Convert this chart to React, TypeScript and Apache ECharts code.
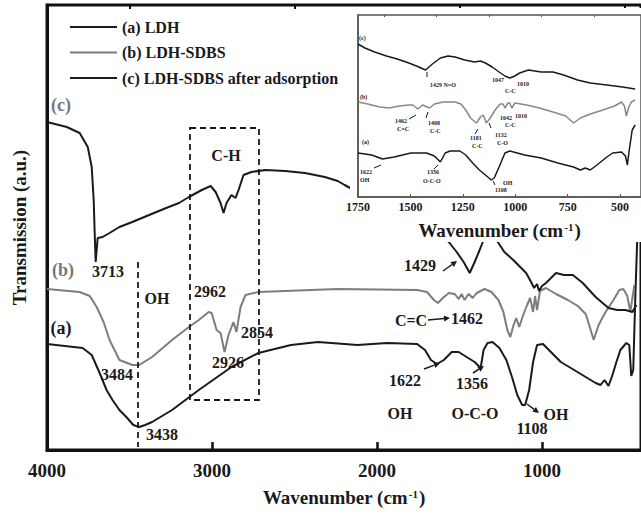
import React, { useEffect, useRef } from 'react';
import * as echarts from 'echarts';

const SERIF = '"Liberation Serif", "Times New Roman", serif';

// Main panel spectra: wavenumber (cm-1) and transmission (a.u.)
const mainWaveA = [4000,3784,3729,3681,3639,3603,3561,3519,3477,3441,3405,3363,3242,3080,2882,2719,2521,2358,2118,1938,1757,1709,1673,1637,1595,1547,1505,1457,1408,1372,1354,1330,1300,1258,1216,1180,1150,1120,1102,1078,1054,1030,994,946,886,825,735,675,645,621,597,573,549,525,489,471,459,447,435,423];
const mainA = [106,102,95,77,60,50,40,33,25,23,25,28,40,60,83,97,105,108,105,107,106,100,90,86,90,98,98,93,88,82,100,107,108,102,90,72,55,45,45,60,88,105,106,98,88,82,73,67,65,70,64,75,88,100,107,105,74,80,150,210];

const mainWaveB = [4000,3802,3741,3699,3657,3621,3561,3483,3441,3363,3242,3140,3080,3020,3002,2972,2948,2924,2900,2870,2852,2827,2797,2719,2238,1757,1697,1655,1631,1601,1565,1529,1505,1487,1469,1445,1420,1396,1348,1306,1264,1234,1210,1192,1174,1156,1138,1114,1090,1072,1054,1042,1030,1012,976,915,843,783,735,705,687,657,615,567,531,507,483,465,440];
const mainB = [161,158,154,143,128,110,90,85,85,93,110,123,130,138,137,120,117,98,115,128,118,143,155,158,161,160,158,150,147,152,157,156,151,156,150,156,152,157,161,158,150,138,120,113,124,132,123,135,145,152,138,154,140,159,162,156,150,144,136,120,110,125,138,150,160,161,154,138,165];

const mainWaveC = [4000,3880,3802,3753,3729,3717,3711,3705,3693,3663,3621,3561,3483,3381,3278,3200,3140,3062,3008,2978,2948,2930,2912,2882,2857,2839,2809,2761,2677,2557,2437,2316,2238,2196,2118,1938,1757,1607,1565,1517,1475,1438,1408,1378,1354,1318,1294,1276,1228,1174,1132,1096,1066,1048,1030,1018,1000,976,915,867,813,753,675,597,543,495,452,428];
const mainC = [328,323,317,303,283,250,217,188,212,213,217,223,228,235,242,247,253,260,264,258,247,237,247,255,252,260,275,278,280,279,277,273,269,265,258,245,230,215,208,198,188,177,188,200,210,222,218,210,198,190,183,177,168,162,166,159,164,167,177,175,175,167,153,142,140,140,138,145];

// Inset spectra (1750-400 cm-1)
const insetWaveC = [1750,1717,1671,1614,1563,1507,1460,1428,1395,1357,1320,1287,1241,1194,1166,1142,1110,1077,1049,1026,1002,979,937,876,820,769,703,642,563,488,428];
const insetC = [153,149,145,141,138,134,130,127,133,139,141,140,137,135,136,134,130,125,121,119,121,124,127,125,125,122,117,114,112,110,108];

const insetWaveB = [1750,1703,1647,1600,1554,1507,1488,1465,1442,1409,1385,1343,1287,1259,1236,1213,1185,1166,1152,1138,1119,1096,1072,1058,1049,1035,1026,1016,1002,946,885,820,759,722,689,642,582,526,493,479,470,460,446,428];
const insetB = [95,93,90,89,91,92,92,88,92,89,93,95,95,93,87,79,74,80,82,74,79,87,93,93,89,94,94,89,94,92,89,85,81,74,79,83,87,91,95,91,81,89,95,97];

const insetWaveA = [1750,1685,1633,1577,1498,1423,1386,1357,1334,1311,1264,1236,1203,1171,1142,1114,1100,1077,1049,1026,955,876,797,722,689,666,642,610,563,535,493,474,465,456,442,428];
const insetA = [44,42,38,40,44,44,41,35,44,46,46,42,34,27,22,17,19,30,44,46,42,39,34,30,27,29,27,32,40,44,45,41,32,47,67,72];

const seriesNames = ['(a) LDH', '(b) LDH-SDBS', '(c) LDH-SDBS after adsorption'];
const mainTicks = [1000, 2000, 3000, 4000];
const mainMinorTicks = [500, 1500, 2500, 3500];
const insetTicks = [500, 750, 1000, 1250, 1500, 1750];
const insetMinorTicks = [625, 875, 1125, 1375, 1625];

const BLACK = '#1a1a1a';
const GRAY = '#7d7d7d';

const zip = (w: number[], v: number[]) => w.map((x, i) => [x, v[i]]);
const plain = (v: number) => String(v);

const txt = (text: string, x: number, y: number, size: number, opts: any = {}) => ({
  type: 'text',
  x,
  y,
  z: 30,
  style: {
    text,
    fontSize: size,
    fontWeight: 'bold',
    fontFamily: SERIF,
    fill: opts.fill || BLACK,
    textAlign: opts.align || 'center',
    align: opts.align || 'center',
    textVerticalAlign: 'middle',
    verticalAlign: 'middle',
  },
});

const ln = (x1: number, y1: number, x2: number, y2: number, w = 1.5, dash?: number[]) => ({
  type: 'line',
  z: 30,
  shape: { x1, y1, x2, y2 },
  style: { stroke: BLACK, lineWidth: w, lineDash: dash },
});

const arrow = (x1: number, y1: number, x2: number, y2: number) => {
  const a = Math.atan2(y2 - y1, x2 - x1);
  const L = 6, W = 3;
  const bx = x2 - L * Math.cos(a), by = y2 - L * Math.sin(a);
  const px = -Math.sin(a) * W, py = Math.cos(a) * W;
  return [
    ln(x1, y1, bx, by, 1.5),
    { type: 'polygon', z: 30, shape: { points: [[x2, y2], [bx + px, by + py], [bx - px, by - py]] }, style: { fill: BLACK } },
  ];
};

const xName = '{t|Wavenumber (cm}{s|-1}{t|)}';
const nameRich = {
  t: { fontSize: 19, fontWeight: 'bold', fontFamily: SERIF, color: BLACK },
  s: { fontSize: 11, fontWeight: 'bold', fontFamily: SERIF, color: BLACK, verticalAlign: 'top', padding: [0, 1, 0, 1] },
};

export default function App() {
  const ref = useRef<HTMLDivElement>(null);
  useEffect(() => {
    if (!ref.current) return;
    const chart = echarts.init(ref.current, undefined, { renderer: 'svg' });
    const lineBase = { type: 'line', showSymbol: false, symbol: 'none', smooth: false };
    const graphic: any[] = [
      // white backdrop of the inset
      { type: 'rect', z: 5, shape: { x: 350, y: 8, width: 300, height: 234 }, style: { fill: '#fff' } },
      // main panel labels
      txt('(c)', 61, 105, 18, { fill: '#777' }),
      txt('(b)', 63, 270, 18, { fill: '#777' }),
      txt('(a)', 61, 328, 18),
      txt('3713', 108, 271, 16),
      txt('OH', 157, 298, 16),
      txt('2962', 210, 291, 16),
      txt('2854', 257, 332, 16),
      txt('2926', 228, 362, 16),
      txt('3484', 117, 374, 16),
      txt('3438', 162, 434, 16),
      txt('C-H', 226, 155, 16),
      txt('1429', 420, 265, 16),
      txt('C=C', 411, 320, 16),
      txt('1462', 467, 318, 16),
      txt('1622', 405, 380, 16),
      txt('1356', 472, 383, 16),
      txt('OH', 400, 413, 16),
      txt('O-C-O', 475, 413, 16),
      txt('OH', 556, 414, 16),
      txt('1108', 532, 428, 16),
      ln(138, 262, 138, 447, 1.8, [6, 4]),
      { type: 'rect', z: 30, shape: { x: 190, y: 128, width: 69, height: 272 }, style: { fill: 'none', stroke: BLACK, lineWidth: 1.8, lineDash: [6, 4] } },
      ...arrow(443, 271, 457, 261),
      ...arrow(428, 320, 450, 318),
      ...arrow(424, 369, 440, 363),
      ...arrow(473, 373, 484, 366),
      ...arrow(527, 404, 539, 413),
      // inset labels
      txt('(c)', 359, 38, 6, { align: 'left' }),
      txt('(b)', 360, 97, 6, { align: 'left' }),
      txt('(a)', 362, 142, 6, { align: 'left' }),
      txt('1429 N=O', 430, 85, 6, { align: 'left' }),
      txt('1047', 492, 80, 6, { align: 'left' }),
      txt('1010', 517, 84, 6, { align: 'left' }),
      txt('C-C', 505, 91, 6, { align: 'left' }),
      txt('1462', 395, 121, 6, { align: 'left' }),
      txt('C=C', 397, 129, 6, { align: 'left' }),
      txt('1408', 428, 123, 6, { align: 'left' }),
      txt('C-C', 430, 131, 6, { align: 'left' }),
      txt('1181', 470, 138, 6, { align: 'left' }),
      txt('C-C', 472, 146, 6, { align: 'left' }),
      txt('1132', 495, 135, 6, { align: 'left' }),
      txt('C-O', 497, 143, 6, { align: 'left' }),
      txt('1042', 500, 118, 6, { align: 'left' }),
      txt('1010', 515, 116, 6, { align: 'left' }),
      txt('C-C', 505, 125, 6, { align: 'left' }),
      txt('1622', 360, 172, 6, { align: 'left' }),
      txt('OH', 360, 180, 6, { align: 'left' }),
      txt('1356', 427, 172, 6, { align: 'left' }),
      txt('O-C-O', 423, 181, 6, { align: 'left' }),
      txt('OH', 503, 183, 6, { align: 'left' }),
      txt('1108', 495, 190, 6, { align: 'left' }),
      ln(427, 77, 427, 72, 1),
      ln(409, 119, 416, 115, 1),
      ln(426, 118, 428, 112, 1),
      ln(475, 134, 478, 129, 1),
      ln(491, 128, 489, 123, 1),
      ln(374, 168, 381, 165, 1),
      ln(434, 169, 438, 165, 1),
      ln(495, 185, 493, 181, 1),
    ];
    chart.setOption({
      animation: false,
      backgroundColor: '#fff',
      textStyle: { fontFamily: SERIF },
      legend: {
        data: seriesNames,
        orient: 'vertical',
        left: 65,
        top: 14,
        z: 40,
        icon: 'rect',
        itemWidth: 47,
        itemHeight: 2,
        itemGap: 9.5,
        textStyle: { fontFamily: SERIF, fontWeight: 'bold', fontSize: 16, lineHeight: 16, color: BLACK },
      },
      grid: [
        { left: 47, top: 5, right: -5, bottom: 66, show: true, borderColor: '#111', borderWidth: 3, z: 0 },
        { left: 358, top: 15, right: -6, bottom: 319, show: true, borderColor: '#555', borderWidth: 1.5, backgroundColor: '#fff', z: 10 },
      ],
      xAxis: [
        {
          gridIndex: 0, type: 'value', inverse: true, min: 400, max: 4000,
          axisLine: { lineStyle: { color: '#111', width: 3 } },
          axisTick: { inside: true, length: 8, customValues: mainTicks, lineStyle: { color: '#111', width: 2.5 } },
          axisLabel: { customValues: mainTicks, formatter: plain, fontSize: 19, fontWeight: 'bold', fontFamily: SERIF, color: BLACK, margin: 11 },
          splitLine: { show: false },
          name: xName, nameLocation: 'middle', nameGap: 38,
          nameTextStyle: { rich: nameRich },
        },
        {
          gridIndex: 0, type: 'value', inverse: true, min: 400, max: 4000,
          axisLine: { show: false },
          axisTick: { inside: true, length: 4, customValues: mainMinorTicks, lineStyle: { color: '#111', width: 2 } },
          axisLabel: { show: false }, splitLine: { show: false },
        },
        {
          gridIndex: 1, type: 'value', inverse: true, min: 400, max: 1750, z: 12,
          axisLine: { lineStyle: { color: '#555', width: 1.5 } },
          axisTick: { inside: true, length: 3, customValues: insetTicks, lineStyle: { color: '#555', width: 1 } },
          axisLabel: { customValues: insetTicks, formatter: plain, fontSize: 12, fontWeight: 'bold', fontFamily: SERIF, color: BLACK, margin: 4 },
          splitLine: { show: false },
          name: xName, nameLocation: 'middle', nameGap: 24,
          nameTextStyle: { rich: nameRich },
        },
        {
          gridIndex: 1, type: 'value', inverse: true, min: 400, max: 1750, z: 12,
          axisLine: { show: false },
          axisTick: { inside: true, length: 2, customValues: insetMinorTicks, lineStyle: { color: '#555', width: 1 } },
          axisLabel: { show: false }, splitLine: { show: false },
        },
      ],
      yAxis: [
        {
          gridIndex: 0, type: 'value', min: 0, max: 445,
          axisLine: { show: true, lineStyle: { color: '#111', width: 3 } },
          axisTick: { show: false }, axisLabel: { show: false }, splitLine: { show: false },
          name: 'Transmission (a.u.)', nameLocation: 'middle', nameGap: 18, nameRotate: 90,
          nameTextStyle: { fontSize: 19, fontWeight: 'bold', fontFamily: SERIF, color: BLACK },
        },
        {
          gridIndex: 1, type: 'value', min: 0, max: 182, z: 12,
          axisLine: { show: true, lineStyle: { color: '#555', width: 1.5 } },
          axisTick: { show: false }, axisLabel: { show: false }, splitLine: { show: false },
        },
      ],
      series: [
        { ...lineBase, name: seriesNames[0], xAxisIndex: 0, yAxisIndex: 0, z: 2, data: zip(mainWaveA, mainA), color: BLACK, lineStyle: { color: BLACK, width: 2 } },
        { ...lineBase, name: seriesNames[1], xAxisIndex: 0, yAxisIndex: 0, z: 2, data: zip(mainWaveB, mainB), color: GRAY, lineStyle: { color: GRAY, width: 2 } },
        { ...lineBase, name: seriesNames[2], xAxisIndex: 0, yAxisIndex: 0, z: 2, data: zip(mainWaveC, mainC), color: BLACK, lineStyle: { color: BLACK, width: 2 } },
        { ...lineBase, name: 'inset (a)', xAxisIndex: 2, yAxisIndex: 1, z: 15, data: zip(insetWaveA, insetA), lineStyle: { color: BLACK, width: 1.5 } },
        { ...lineBase, name: 'inset (b)', xAxisIndex: 2, yAxisIndex: 1, z: 15, data: zip(insetWaveB, insetB), lineStyle: { color: '#888', width: 1.5 } },
        { ...lineBase, name: 'inset (c)', xAxisIndex: 2, yAxisIndex: 1, z: 15, data: zip(insetWaveC, insetC), lineStyle: { color: BLACK, width: 1.5 } },
      ],
      graphic,
    });
    return () => chart.dispose();
  }, []);
  return <div ref={ref} style={{ position: 'absolute', left: 0, top: 0, width: 641, height: 516 }} />;
}
